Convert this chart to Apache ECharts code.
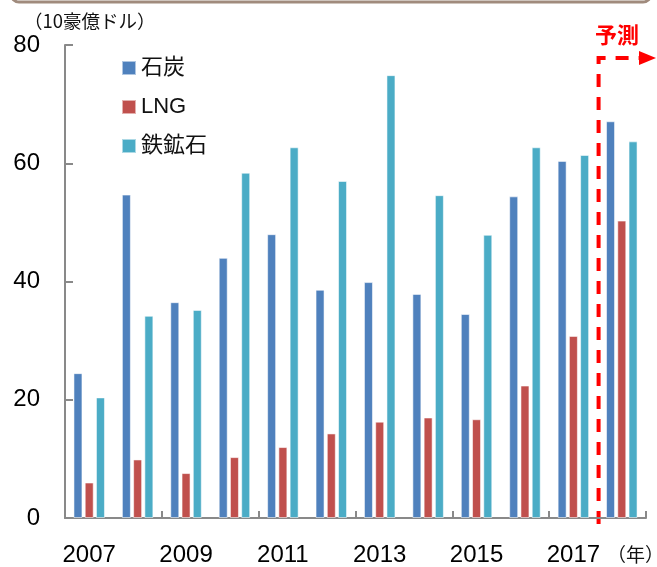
<!DOCTYPE html>
<html>
<head>
<meta charset="utf-8">
<script src="https://cdn.jsdelivr.net/npm/echarts@6/dist/echarts.min.js"></script>
<style>
html,body{margin:0;padding:0;background:#fff;}
#chart{width:657px;height:567px;}
</style>
</head>
<body>
<div id="chart"></div>
<script>
const years = ['2007','2008','2009','2010','2011','2012','2013','2014','2015','2016','2017','2018'];
const coal = [24.5, 54.7, 36.5, 44.0, 48.0, 38.6, 39.9, 37.9, 34.5, 54.4, 60.4, 67.1];
const lng = [6.0, 9.9, 7.6, 10.3, 12.0, 14.3, 16.3, 17.0, 16.7, 22.4, 30.8, 50.3];
const ironOre = [20.4, 34.2, 35.2, 58.4, 62.7, 57.0, 74.9, 54.6, 47.9, 62.7, 61.4, 63.7];
const seriesNames = ['石炭', 'LNG', '鉄鉱石'];
const yTicks = {min: 0, max: 80, interval: 20};

const FONT = '"Liberation Sans", "Noto Sans CJK JP", sans-serif';
const colors = ['#4F81BD', '#C0504D', '#4BACC6'];
const axisGray = '#898989';

const chart = echarts.init(document.getElementById('chart'), null, {renderer: 'canvas'});

function bar(name, data, color) {
  return {
    name: name, type: 'bar', data: data, barWidth: 9, barGap: '25%',
    itemStyle: {color: color, borderColor: 'rgba(255,255,255,0.55)', borderWidth: 1},
    animation: false
  };
}

chart.setOption({
  animation: false,
  color: colors,
  textStyle: {fontFamily: FONT},
  grid: {left: 65, right: 11, top: 45, bottom: 47, containLabel: false},
  legend: {
    orient: 'vertical', left: 121, top: 57, itemWidth: 14, itemHeight: 14, itemGap: 17,
    padding: 0, icon: 'rect',
    textStyle: {fontSize: 22, lineHeight: 22, color: '#111', fontFamily: FONT},
    data: seriesNames
  },
  xAxis: {
    type: 'category', data: years, boundaryGap: true,
    axisLine: {lineStyle: {color: axisGray, width: 2}},
    axisTick: {show: true, inside: true, length: 7, interval: 1, lineStyle: {color: axisGray, width: 2}},
    axisLabel: {interval: 1, fontSize: 24, color: '#000', margin: 25, fontFamily: FONT}
  },
  yAxis: {
    type: 'value', min: yTicks.min, max: yTicks.max, interval: yTicks.interval,
    splitLine: {show: false},
    axisLine: {show: true, lineStyle: {color: axisGray, width: 2}},
    axisTick: {show: true, inside: true, length: 8, lineStyle: {color: axisGray, width: 2}},
    axisLabel: {fontSize: 24, color: '#000', margin: 25, fontFamily: FONT}
  },
  series: [
    bar(seriesNames[0], coal, colors[0]),
    bar(seriesNames[1], lng, colors[1]),
    bar(seriesNames[2], ironOre, colors[2])
  ]
});

// annotations
const x10 = chart.convertToPixel({xAxisIndex: 0}, years[10]);
const x11 = chart.convertToPixel({xAxisIndex: 0}, years[11]);
const bx = (x10 + x11) / 2 + 1;
const yTop = 58;
const yBot = 524;

chart.setOption({
  graphic: [
    {type: 'rect', shape: {x: 11, y: -20, width: 640, height: 22, r: 8}, style: {fill: 'none', stroke: '#A08B7D', lineWidth: 3}, silent: true},
    {type: 'text', left: 24, top: 12, style: {text: '（10豪億ドル）', fill: '#111', font: '18.5px "Noto Sans CJK JP", sans-serif'}},
    {type: 'text', left: 607, top: 545, style: {text: '（年）', fill: '#111', font: '19px "Noto Sans CJK JP", sans-serif'}},
    {type: 'text', left: 595, top: 24, style: {text: '予測', fill: '#FF0000', font: 'bold 22px "Noto Sans CJK JP", sans-serif'}},
    {type: 'polyline', shape: {points: [[bx, yBot], [bx, yTop], [641, yTop]]}, style: {stroke: '#FF0000', lineWidth: 4, lineDash: [13, 10], fill: 'none'}, silent: true},
    {type: 'polygon', shape: {points: [[639, yTop - 7], [656, yTop], [639, yTop + 7]]}, style: {fill: '#FF0000'}, silent: true}
  ]
});
</script>
</body>
</html>
